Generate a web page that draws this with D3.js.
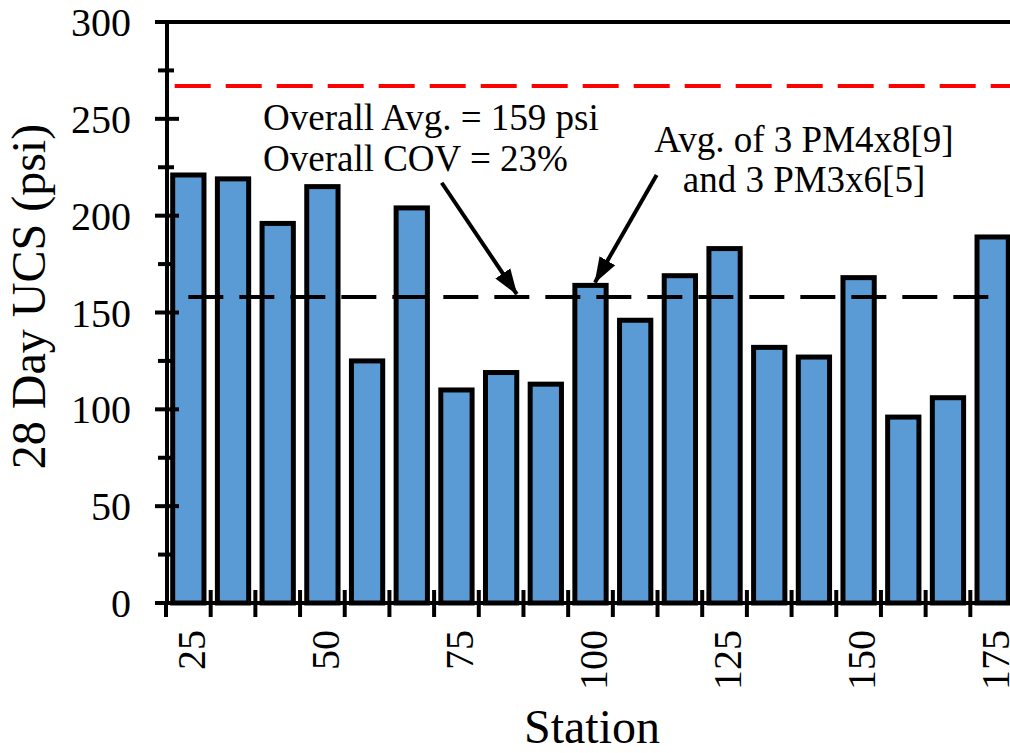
<!DOCTYPE html>
<html>
<head>
<meta charset="utf-8">
<script src="https://cdn.jsdelivr.net/npm/d3@7"></script>
<style>
  body { margin: 0; background: #fff; }
</style>
</head>
<body>
<svg width="1010" height="753" font-family="'Liberation Serif', Tinos, 'Times New Roman', 'DejaVu Serif', serif"></svg>
<script>
// data
var stations = [25, 33, 42, 50, 58, 67, 75, 83, 92, 100, 108, 117, 125, 133, 142, 150, 158, 167, 175];
var ucs = [221, 219, 196, 215, 125, 204, 110, 119, 113, 164, 146, 169, 183, 132, 127, 168, 96, 106, 189];
var stationTicks = [25, 50, 75, 100, 125, 150, 175];
var yMajor = [0, 50, 100, 150, 200, 250, 300];
var yMinor = [25, 75, 125, 175, 225, 275];
var overallAvg = 158;
var targetUcs = 267;

var svg = d3.select("svg");
var width = +svg.attr("width");

var axisX = 167, baseY = 603, topY = 22;

var x = d3.scaleBand()
  .domain(stations)
  .range([166, 1015])
  .paddingInner(0.3)
  .paddingOuter(0.15);

// index scale (band units) for annotations
var xi = d3.scaleLinear().domain([0, stations.length]).range(x.range());

var y = d3.scaleLinear().domain([0, 300]).range([baseY, topY]);

// bars
svg.selectAll(".bar")
  .data(ucs)
  .enter()
  .append("rect")
  .attr("class", "bar")
  .attr("x", (d, i) => x(stations[i]))
  .attr("y", (d) => y(d))
  .attr("width", x.bandwidth())
  .attr("height", (d) => y(0) - y(d))
  .attr("fill", "#5b9bd5")
  .attr("stroke", "#000")
  .attr("stroke-width", 5);

// red target line
svg.append("line")
  .attr("x1", x(stations[0]) + 2)
  .attr("x2", width)
  .attr("y1", y(targetUcs))
  .attr("y2", y(targetUcs))
  .attr("stroke", "#ff0000")
  .attr("stroke-width", 4)
  .attr("stroke-dasharray", "36,15");

// overall average line
svg.append("line")
  .attr("x1", x(stations[0]) + x.bandwidth() / 2)
  .attr("x2", x(stations[stations.length - 1]) + x.bandwidth() / 2)
  .attr("y1", y(overallAvg))
  .attr("y2", y(overallAvg))
  .attr("stroke", "#000")
  .attr("stroke-width", 4)
  .attr("stroke-dasharray", "35,16");

// axes (drawn by hand to get the crossing ticks)
var ax = svg.append("g").attr("stroke", "#000").attr("stroke-width", 4);

ax.append("line")
  .attr("x1", axisX).attr("x2", axisX)
  .attr("y1", topY).attr("y2", baseY + 2);
ax.append("line")
  .attr("x1", 155).attr("x2", width)
  .attr("y1", baseY).attr("y2", baseY);
ax.append("line")
  .attr("x1", 155).attr("x2", width)
  .attr("y1", topY).attr("y2", topY);

ax.selectAll(".ymaj")
  .data(yMajor)
  .enter()
  .append("line")
  .attr("x1", 155).attr("x2", 179)
  .attr("y1", (d) => y(d)).attr("y2", (d) => y(d));

ax.selectAll(".ymin")
  .data(yMinor)
  .enter()
  .append("line")
  .attr("x1", 158).attr("x2", 174)
  .attr("y1", (d) => y(d)).attr("y2", (d) => y(d));

ax.selectAll(".xt")
  .data(stations)
  .enter()
  .append("line")
  .attr("x1", (d) => x(d) - x.step() * 0.15)
  .attr("x2", (d) => x(d) - x.step() * 0.15)
  .attr("y1", (d, i) => (i === 0 ? baseY : baseY - 13))
  .attr("y2", baseY + 14);

// y tick labels
svg.selectAll(".ylab")
  .data(yMajor)
  .enter()
  .append("text")
  .attr("x", 131)
  .attr("y", (d) => y(d))
  .attr("dy", "0.35em")
  .attr("text-anchor", "end")
  .attr("font-size", "40px")
  .text((d) => d);

// x tick labels (every third station)
svg.selectAll(".xlab")
  .data(stations.filter((d) => stationTicks.indexOf(d) >= 0))
  .enter()
  .append("text")
  .attr("transform", (d) => "translate(" + (x(d) + x.bandwidth() / 2) + "," + 630 + ") rotate(-90)")
  .attr("dy", "0.42em")
  .attr("text-anchor", "end")
  .attr("font-size", "40px")
  .text((d) => d);

// axis titles
svg.append("text")
  .attr("transform", "translate(45," + (y(150) - 16) + ") rotate(-90)")
  .attr("text-anchor", "middle")
  .attr("font-size", "48px")
  .text("28 Day UCS (psi)");

svg.append("text")
  .attr("x", 592)
  .attr("y", 743)
  .attr("text-anchor", "middle")
  .attr("font-size", "48px")
  .text("Station");

// annotations
svg.append("defs")
  .append("marker")
  .attr("id", "arrow")
  .attr("markerUnits", "userSpaceOnUse")
  .attr("viewBox", "0 -10 26 20")
  .attr("refX", 25)
  .attr("refY", 0)
  .attr("markerWidth", 26)
  .attr("markerHeight", 20)
  .attr("orient", "auto")
  .append("path")
  .attr("d", "M0,-9L26,0L0,9Z")
  .attr("fill", "#000");

var arrows = [
  { from: [6.17, 217], to: [7.85, 159.5] },
  { from: [10.98, 221], to: [9.6, 165.5] }
];

svg.selectAll(".arrow")
  .data(arrows)
  .enter()
  .append("line")
  .attr("x1", (d) => xi(d.from[0]))
  .attr("y1", (d) => y(d.from[1]))
  .attr("x2", (d) => xi(d.to[0]))
  .attr("y2", (d) => y(d.to[1]))
  .attr("stroke", "#000")
  .attr("stroke-width", 4)
  .attr("marker-end", "url(#arrow)");

var note1 = svg.append("text").attr("font-size", "37px");
note1.append("tspan").attr("x", 263).attr("y", 130).text("Overall Avg. = 159 psi");
note1.append("tspan").attr("x", 263).attr("y", 171).text("Overall COV = 23%");

var note2 = svg.append("text").attr("font-size", "37px").attr("text-anchor", "middle");
note2.append("tspan").attr("x", 804).attr("y", 152).text("Avg. of 3 PM4x8[9]");
note2.append("tspan").attr("x", 804).attr("y", 192).text("and 3 PM3x6[5]");
</script>
</body>
</html>
